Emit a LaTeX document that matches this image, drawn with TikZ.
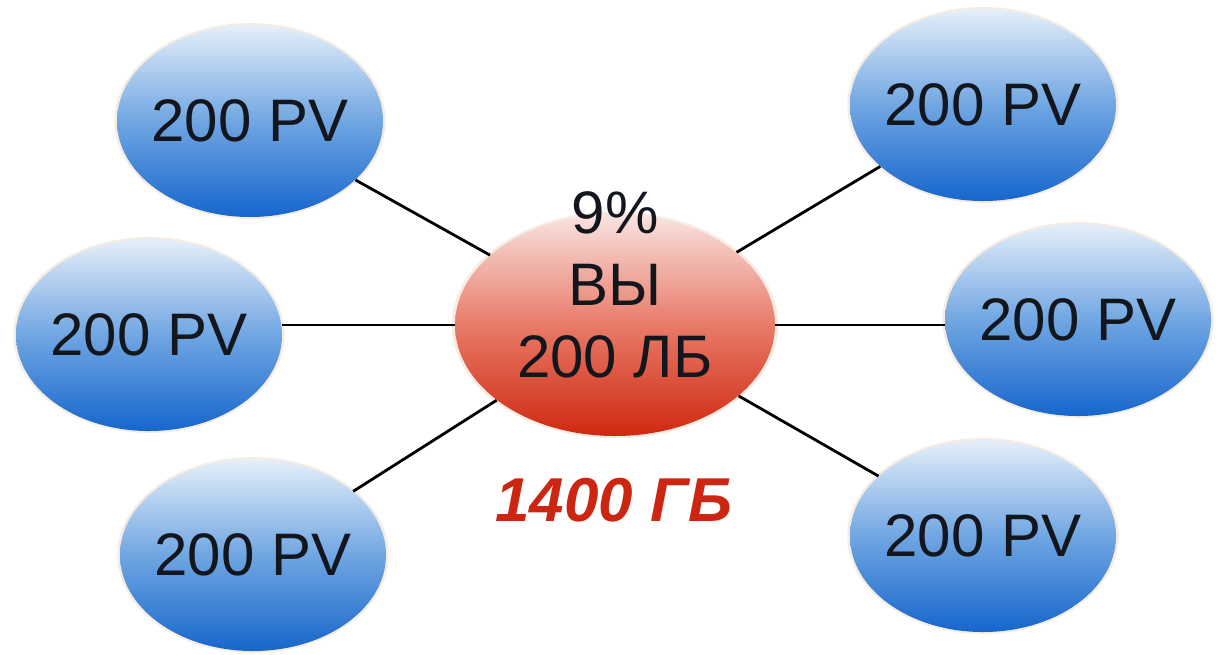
\documentclass[tikz,border=0pt]{standalone}
\usepackage{fontspec}
\setmainfont{Liberation Sans}
\usetikzlibrary{shapes.geometric}
\usetikzlibrary{shadows}

\definecolor{pvtop}{RGB}{230,239,249}
\definecolor{pvmid}{RGB}{112,166,226}
\definecolor{pvbot}{RGB}{22,102,204}
\definecolor{hubtop}{RGB}{249,228,225}
\definecolor{hubmid}{RGB}{232,122,104}
\definecolor{hubbot}{RGB}{208,40,16}
\definecolor{totalred}{RGB}{204,38,18}
\definecolor{inkdark}{RGB}{20,22,30}

\begin{document}
\begin{tikzpicture}[x=0.5pt,y=0.5pt,yscale=-1,
  pv/.style={ellipse, inner sep=-30pt, minimum width=133pt, minimum height=96pt,
    top color=pvtop, bottom color=pvbot, middle color=pvmid, text=inkdark,
    drop shadow={shadow xshift=0pt, shadow yshift=0pt, shadow scale=1.02, opacity=0.25, fill=brown!60},
    font=\fontsize{30}{36}\selectfont},
  hub/.style={ellipse, inner sep=0pt, minimum width=160pt, minimum height=111pt,
    top color=hubtop, bottom color=hubbot, middle color=hubmid,
    drop shadow={shadow xshift=0pt, shadow yshift=0pt, shadow scale=1.02, opacity=0.25, fill=brown!60}},
  hubtext/.style={align=center, inner sep=0pt, text=inkdark, font=\fontsize{30}{36}\selectfont},
  total/.style={inner sep=0pt, text=totalred, font=\fontsize{31}{36}\selectfont\bfseries\itshape},
  link/.style={line width=1.4pt, black}]
\useasboundingbox (0,0) rectangle (1219,654);

%Shapes: the six PV ellipses
\node[pv] (pvtl) at (250,121) {200 PV};
\node[pv] (pvml) at (149,335) {200 PV};
\node[pv] (pvbl) at (253,555) {200 PV};
\node[pv] (pvtr) at (983,105) {200 PV};
\node[pv] (pvmr) at (1078,320) {200 PV};
\node[pv] (pvbr) at (983,536) {200 PV};

%Shape: centre ellipse
\node[hub] (c) at (615,325) {};

%Straight Lines
\draw[link] (c) -- (pvtl);
\draw[link] (c.west) -- (c.west -| pvml.east);
\draw[link] (c) -- (pvbl);
\draw[link] (c) -- (pvtr);
\draw[link] (c.east) -- (c.east -| pvmr.west);
\draw[link] (c) -- (pvbr);

% Text Node
\node[hubtext] (ct) at (615,285) {9\%\\ВЫ\\200 ЛБ};
% Text Node
\node[total] (tot) at (614,500) {1400 ГБ};

\end{tikzpicture}
\end{document}
